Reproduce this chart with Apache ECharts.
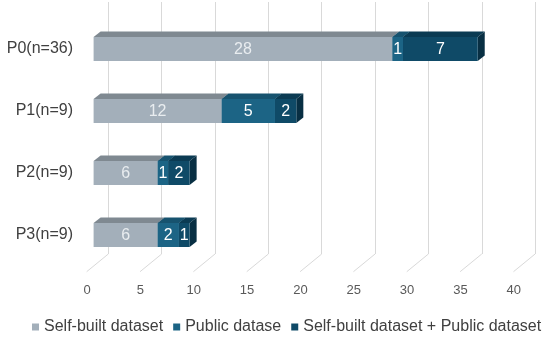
<!DOCTYPE html>
<html><head><meta charset="utf-8">
<script src="https://cdn.jsdelivr.net/npm/echarts@6/dist/echarts.min.js"></script>
<style>html,body{margin:0;padding:0;background:#fff}#c{width:550px;height:339px}</style>
</head><body><div id="c"></div>
<script>
const categories = ['P0(n=36)', 'P1(n=9)', 'P2(n=9)', 'P3(n=9)'];
const seriesNames = ['Self-built dataset', 'Public datase', 'Self-built dataset + Public dataset'];
const selfBuilt = [28, 12, 6, 6];
const publicData = [1, 5, 1, 2];
const combined = [7, 2, 2, 1];
const xTicks = [0, 5, 10, 15, 20, 25, 30, 35, 40];

const frontColors = ['#A3AFBA', '#1C6485', '#0F4A67'];
const topColors = ['#7F8991', '#17536F', '#0B3B53'];
const sideColors = ['#8C97A1', '#114A64', '#082F43'];
const labelColors = ['#E9EDF0', '#FFFFFF', '#FFFFFF'];

const values = [selfBuilt, publicData, combined];
const starts = [];
const cum = categories.map(() => 0);
values.forEach((arr, si) => {
  starts.push(arr.map((v, i) => { const s = cum[i]; cum[i] += v; return s; }));
});

const FONT = '"Liberation Sans", Arial, sans-serif';

function makeBarRender(si) {
  return function (params, api) {
    const cat = api.value(0), s = api.value(1), e = api.value(2), v = api.value(3);
    const p0 = api.coord([s, cat]);
    const p1 = api.coord([e, cat]);
    const h = 24, dx = 6.6, ddx = 7, ddy = 5.6;
    const xa = p0[0] + dx, xb = p1[0] + dx;
    const yt = p0[1] - h / 2, yb = p0[1] + h / 2;
    const children = [
      { type: 'polygon', shape: { points: [[xa, yt], [xb, yt], [xb + ddx, yt - ddy], [xa + ddx, yt - ddy]] },
        style: { fill: topColors[si] } },
      { type: 'polygon', shape: { points: [[xb, yt], [xb + ddx, yt - ddy], [xb + ddx, yb - ddy], [xb, yb]] },
        style: { fill: sideColors[si] } },
      { type: 'rect', shape: { x: xa, y: yt, width: xb - xa, height: h },
        style: { fill: frontColors[si] } },
      { type: 'text', x: (xa + xb) / 2, y: p0[1] + 1,
        style: { text: String(v), fill: labelColors[si], font: '16px ' + FONT, align: 'center', verticalAlign: 'middle' } }
    ];
    return { type: 'group', children: children };
  };
}

const barSeries = values.map((arr, si) => ({
  name: seriesNames[si],
  type: 'custom',
  xAxisIndex: 0, yAxisIndex: 0,
  coordinateSystem: 'cartesian2d',
  clip: false,
  z: 5 + si,
  itemStyle: { color: frontColors[si] },
  renderItem: makeBarRender(si),
  encode: { x: [1, 2], y: 0 },
  data: arr.map((v, i) => [i, starts[si][i], starts[si][i] + v, v])
}));

const floorSeries = {
  type: 'custom',
  xAxisIndex: 1, yAxisIndex: 1,
  clip: false,
  silent: true,
  z: 1,
  renderItem: function (params, api) {
    const p = api.coord([api.value(0), 0]);
    return { type: 'line', shape: { x1: p[0], y1: p[1], x2: p[0] - 21.6, y2: p[1] + 17.7 },
      style: { stroke: '#D9D9D9', lineWidth: 1 } };
  },
  data: xTicks.map(v => [v, 0])
};

const chart = echarts.init(document.getElementById('c'), null, { renderer: 'canvas' });
chart.setOption({
  backgroundColor: '#fff',
  animation: false,
  grid: [
    { left: 87, width: 426.8, top: 18, height: 248 },
    { left: 108.3, width: 426.8, top: 2, height: 252 }
  ],
  xAxis: [
    { type: 'value', gridIndex: 0, min: 0, max: 40, interval: 5,
      splitLine: { show: false }, axisLine: { show: false }, axisTick: { show: false },
      axisLabel: { margin: 18, color: '#595959', fontSize: 13, fontFamily: FONT } },
    { type: 'value', gridIndex: 1, min: 0, max: 40, interval: 5,
      splitLine: { show: true, lineStyle: { color: '#D9D9D9', width: 1 } },
      axisLine: { show: false }, axisTick: { show: false }, axisLabel: { show: false } }
  ],
  yAxis: [
    { type: 'category', gridIndex: 0, data: categories, inverse: true,
      axisLine: { show: false }, axisTick: { show: false }, splitLine: { show: false },
      axisLabel: { margin: 14, color: '#404040', fontSize: 16, fontFamily: FONT, padding: [4, 0, 0, 0] } },
    { type: 'value', gridIndex: 1, min: 0, max: 1, show: false, splitLine: { show: false } }
  ],
  legend: {
    data: seriesNames,
    left: 27, top: 314,
    icon: 'rect', itemWidth: 7, itemHeight: 7, itemGap: 10,
    textStyle: { color: '#404040', fontSize: 16, fontFamily: FONT, padding: [0, 0, 0, 0] }
  },
  series: [floorSeries].concat(barSeries)
});
</script>
</body></html>
